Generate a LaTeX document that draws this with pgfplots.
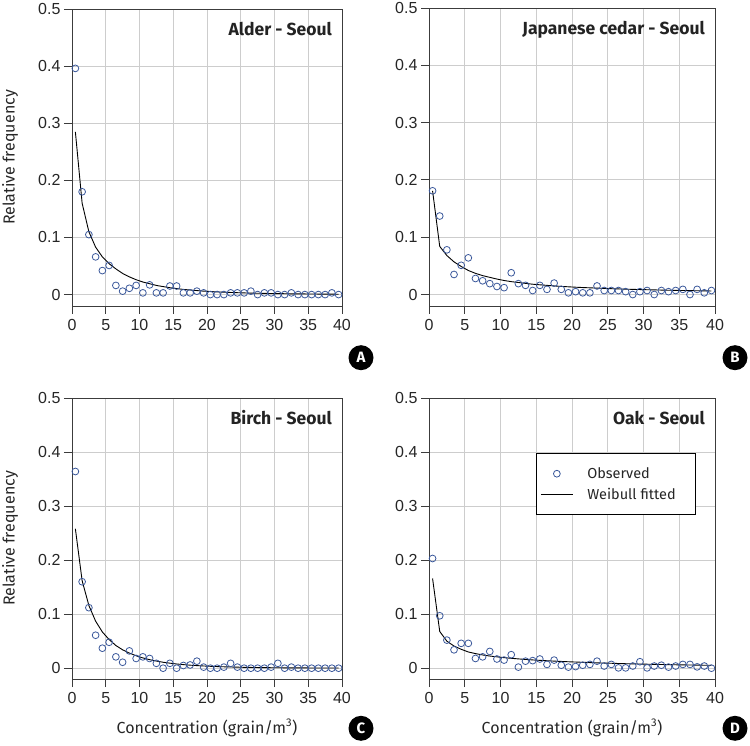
\documentclass[border=0pt]{standalone}
\usepackage{pgfplots}
\pgfplotsset{compat=1.18}
\usepackage{pgfplotstable}
\usepackage{fontspec}
\setmainfont{Fira Sans}
\newfontfamily\tickfont{Liberation Sans}
\definecolor{obsblue}{RGB}{58,88,155}
\definecolor{axgray}{RGB}{60,60,60}
\definecolor{gridgray}{RGB}{205,205,205}
\definecolor{titlegray}{RGB}{35,35,35}

% x  observed  fitted
\pgfplotstableread{
x obs fit
0.5 0.396 0.285
1.5 0.180 0.160
2.5 0.105 0.110
3.5 0.066 0.083
4.5 0.042 0.066
5.5 0.051 0.054
6.5 0.016 0.045
7.5 0.006 0.037
8.5 0.011 0.031
9.5 0.016 0.026
10.5 0.003 0.022
11.5 0.017 0.019
12.5 0.003 0.016
13.5 0.003 0.014
14.5 0.015 0.012
15.5 0.015 0.0105
16.5 0.003 0.009
17.5 0.003 0.008
18.5 0.006 0.007
19.5 0.003 0.006
20.5 0.000 0.0053
21.5 0.000 0.0047
22.5 0.000 0.0042
23.5 0.003 0.0037
24.5 0.003 0.0033
25.5 0.003 0.0029
26.5 0.006 0.0026
27.5 0.000 0.0023
28.5 0.003 0.0021
29.5 0.003 0.0019
30.5 0.000 0.0017
31.5 0.000 0.0015
32.5 0.003 0.0013
33.5 0.000 0.0012
34.5 0.000 0.0011
35.5 0.000 0.0010
36.5 0.000 0.0009
37.5 0.000 0.0008
38.5 0.003 0.0007
39.5 0.000 0.0006
}\alder

\pgfplotstableread{
x obs fit
0.5 0.181 0.181
1.5 0.137 0.084
2.5 0.078 0.068
3.5 0.035 0.057
4.5 0.051 0.049
5.5 0.064 0.042
6.5 0.028 0.037
7.5 0.024 0.033
8.5 0.019 0.030
9.5 0.014 0.027
10.5 0.012 0.0245
11.5 0.038 0.0225
12.5 0.019 0.021
13.5 0.016 0.0195
14.5 0.007 0.018
15.5 0.016 0.017
16.5 0.009 0.016
17.5 0.020 0.015
18.5 0.009 0.0142
19.5 0.003 0.0135
20.5 0.005 0.0128
21.5 0.003 0.0122
22.5 0.003 0.0117
23.5 0.015 0.0112
24.5 0.007 0.0107
25.5 0.007 0.0102
26.5 0.007 0.0098
27.5 0.005 0.0094
28.5 0.000 0.0090
29.5 0.005 0.0087
30.5 0.007 0.0084
31.5 0.000 0.0081
32.5 0.007 0.0078
33.5 0.005 0.0075
34.5 0.007 0.0073
35.5 0.009 0.0070
36.5 0.000 0.0068
37.5 0.009 0.0066
38.5 0.003 0.0064
39.5 0.007 0.0062
}\cedar

\pgfplotstableread{
x obs fit
0.5 0.364 0.258
1.5 0.160 0.162
2.5 0.112 0.116
3.5 0.061 0.087
4.5 0.037 0.067
5.5 0.048 0.053
6.5 0.021 0.042
7.5 0.011 0.034
8.5 0.032 0.028
9.5 0.018 0.023
10.5 0.021 0.019
11.5 0.018 0.0158
12.5 0.009 0.0132
13.5 0.000 0.0110
14.5 0.009 0.0093
15.5 0.000 0.0078
16.5 0.005 0.0066
17.5 0.006 0.0056
18.5 0.013 0.0048
19.5 0.002 0.0041
20.5 0.000 0.0035
21.5 0.000 0.0030
22.5 0.002 0.0026
23.5 0.009 0.0022
24.5 0.002 0.0019
25.5 0.000 0.0016
26.5 0.000 0.0014
27.5 0.000 0.0012
28.5 0.000 0.0010
29.5 0.002 0.0009
30.5 0.009 0.0008
31.5 0.000 0.0007
32.5 0.002 0.0006
33.5 0.000 0.0005
34.5 0.000 0.0005
35.5 0.000 0.0004
36.5 0.000 0.0004
37.5 0.000 0.0003
38.5 0.000 0.0003
39.5 0.000 0.0003
}\birch

\pgfplotstableread{
x obs fit
0.5 0.203 0.166
1.5 0.097 0.068
2.5 0.052 0.050
3.5 0.034 0.041
4.5 0.046 0.035
5.5 0.046 0.030
6.5 0.018 0.027
7.5 0.021 0.0245
8.5 0.031 0.0225
9.5 0.017 0.021
10.5 0.015 0.0195
11.5 0.025 0.0183
12.5 0.002 0.0172
13.5 0.013 0.0162
14.5 0.014 0.0153
15.5 0.017 0.0145
16.5 0.007 0.0138
17.5 0.015 0.0131
18.5 0.0055 0.0125
19.5 0.002 0.0119
20.5 0.003 0.0114
21.5 0.0055 0.0109
22.5 0.007 0.0104
23.5 0.013 0.0099
24.5 0.004 0.0095
25.5 0.007 0.0091
26.5 0.0006 0.0087
27.5 0.0006 0.0083
28.5 0.004 0.0080
29.5 0.012 0.0077
30.5 0.0006 0.0074
31.5 0.004 0.0071
32.5 0.0055 0.0068
33.5 0.002 0.0066
34.5 0.004 0.0063
35.5 0.007 0.0061
36.5 0.007 0.0059
37.5 0.0025 0.0057
38.5 0.004 0.0055
39.5 0.000 0.0053
}\oak

\pgfplotsset{
  panel/.style={
    scale only axis,
    xmin=0, xmax=40, ymin=-0.02, ymax=0.5,
    xtick={0,5,...,40}, ytick={0,0.1,0.2,0.3,0.4,0.5},
    grid=major, major grid style={gridgray, line width=0.9pt},
    axis line style={axgray, line width=0.9pt},
    tick style={axgray, line width=0.9pt},
    tick align=outside, major tick length=8pt,
    xtick pos=left, ytick pos=left,
    /pgf/number format/assume math mode=true,
    yticklabel style={/pgf/number format/fixed, /pgf/number format/precision=1},
    xticklabel style={yshift=-2pt},
    tick label style={font=\tickfont\fontsize{16}{18}\selectfont, text=black!85},
    every axis y label/.style={at={(axis description cs:-0.2296,0.5)}, rotate=90, anchor=center, font=\fontsize{16}{19}\selectfont, text=black!85},
    every axis x label/.style={at={(axis description cs:0.5,-0.1744)}, anchor=center, font=\fontsize{16}{19}\selectfont, text=black!85},
    legend image code/.code={\draw[mark repeat=2,mark phase=2,##1] plot coordinates {(0pt,0pt) (16pt,0pt) (32pt,0pt)};},
  },
  obs/.style={only marks, mark=o, mark size=3.4pt, color=obsblue, mark options={line width=0.8pt}},
  fit/.style={black, line width=0.9pt, no marks},
}
\tikzset{
  ptitle/.style={anchor=base east, inner sep=0pt, xshift=-10pt, yshift=-26.5pt, font=\bfseries\fontsize{17.5}{20}\selectfont, text=titlegray},
}

\begin{document}
\begin{tikzpicture}
\useasboundingbox (0,0) rectangle (750pt,745pt);

% A
\begin{axis}[panel, at={(72pt,439pt)}, anchor=south west, width=270pt, height=297pt,
  ylabel={Relative frequency}]
\addplot[fit] table[x=x, y=fit] {\alder};
\addplot[obs] table[x=x, y=obs] {\alder};
\node[ptitle] at (rel axis cs:1,1) {Alder - Seoul};
\end{axis}

% B
\begin{axis}[panel, at={(429pt,439pt)}, anchor=south west, width=286pt, height=298pt]
\addplot[fit] table[x=x, y=fit] {\cedar};
\addplot[obs] table[x=x, y=obs] {\cedar};
\node[ptitle] at (rel axis cs:1,1) {Japanese cedar - Seoul};
\end{axis}

% C
\begin{axis}[panel, at={(72pt,66pt)}, anchor=south west, width=270pt, height=281pt,
  ylabel={Relative frequency}, xlabel={Concentration (grain/m\textsuperscript{3})}]
\addplot[fit] table[x=x, y=fit] {\birch};
\addplot[obs] table[x=x, y=obs] {\birch};
\node[ptitle] at (rel axis cs:1,1) {Birch - Seoul};
\end{axis}

% D
\begin{axis}[panel, at={(429pt,66pt)}, anchor=south west, width=286pt, height=281pt,
  xlabel={Concentration (grain/m\textsuperscript{3})},
  legend style={at={(rel axis cs:0.374,0.804)}, anchor=north west, draw=black, line width=0.9pt,
    font=\fontsize{14.5}{17}\selectfont, text=black!85, inner xsep=4pt, inner ysep=12pt, row sep=4pt,
    /tikz/every odd column/.append style={column sep=12pt}},
  legend cell align=left]
\addplot[obs] table[x=x, y=obs] {\oak};
\addlegendentry{Observed}
\addplot[fit] table[x=x, y=fit] {\oak};
\addlegendentry{Weibull fitted\hspace*{14pt}}
\node[ptitle] at (rel axis cs:1,1) {Oak - Seoul};
\end{axis}

\foreach \lab/\px/\py in {A/361/387.3, B/735/387.3, C/361/16.7, D/735/16.7}{
  \node[circle, fill=black, minimum size=25pt, inner sep=0pt, text=white,
        font=\bfseries\fontsize{15}{15}\selectfont] at (\px pt,\py pt) {\lab};
}
\end{tikzpicture}
\end{document}
